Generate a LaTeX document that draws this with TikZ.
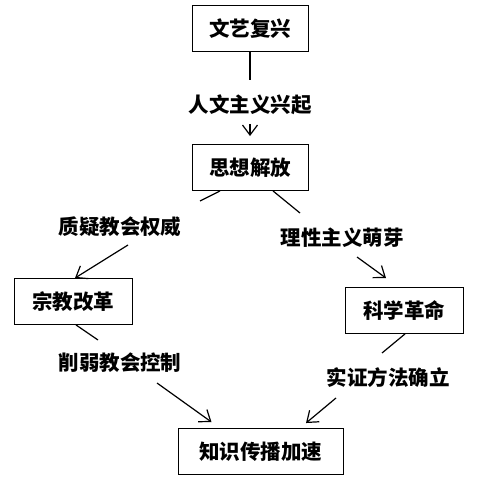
\documentclass[tikz,border=0pt]{standalone}
\usepackage{fontspec}
\usepackage{xcolor}
\usepackage{tikz}
\usetikzlibrary{arrows.meta}
\newfontfamily\cjk{Noto Sans CJK SC}

\begin{document}
\begin{tikzpicture}[x=1pt, y=-1pt,
    font=\cjk\bfseries\fontsize{20.5}{24}\selectfont,
    box/.style={draw, line width=0.9pt, inner sep=0pt, minimum height=46pt},
    lbl/.style={inner sep=0pt},
    link/.style={line width=1.2pt},
    arr/.style={line width=1.2pt, -{Straight Barb[length=10pt, width=15pt]}}
    ]
    \path[fill=white] (0,0) rectangle (485,484);
    \node[box, minimum width=116pt] (wyfx) at (250,28.5) {文艺复兴};
    \node[box, minimum width=116pt] (sxjf) at (250,167.5) {思想解放};
    \node[box, minimum width=118pt] (zjgg) at (73,301.5) {宗教改革};
    \node[box, minimum width=118pt] (kxgm) at (404,310.5) {科学革命};
    \node[box, minimum width=165pt] (zscb) at (260.5,451.5) {知识传播加速};
    \node[lbl] (rwzy) at (250,105) {人文主义兴起};
    \node[lbl] (zyjq) at (120,227) {质疑教会权威};
    \node[lbl] (lxzy) at (342,238) {理性主义萌芽};
    \node[lbl] (xrjh) at (120,363) {削弱教会控制};
    \node[lbl] (szff) at (388,378) {实证方法确立};
    \draw[link] (wyfx.south) -- ([shift={(0,-25)}]rwzy.center);
    \draw[arr] ([shift={(0,19)}]rwzy.center) -- ([shift={(0,-8)}]sxjf.north);
    \draw[link] ([shift={(-30,0)}]sxjf.south) -- ([shift={(80,-26)}]zyjq.center);
    \draw[arr] ([shift={(8,18)}]zyjq.center) -- ([shift={(2,0)}]zjgg.north);
    \draw[link] ([shift={(23,0)}]sxjf.south) -- ([shift={(-42,-25)}]lxzy.center);
    \draw[arr] ([shift={(15,19)}]lxzy.center) -- ([shift={(-18,-9)}]kxgm.north);
    \draw[link] ([shift={(3,0)}]zjgg.south) -- ([shift={(-22,-23)}]xrjh.center);
    \draw[arr] ([shift={(37,20)}]xrjh.center) -- ([shift={(-49,-6)}]zscb.north);
    \draw[link] ([shift={(1,0)}]kxgm.south) -- ([shift={(-6,-25)}]szff.center);
    \draw[arr] ([shift={(-52,20)}]szff.center) -- ([shift={(45.5,-5)}]zscb.north);
\end{tikzpicture}
\end{document}
